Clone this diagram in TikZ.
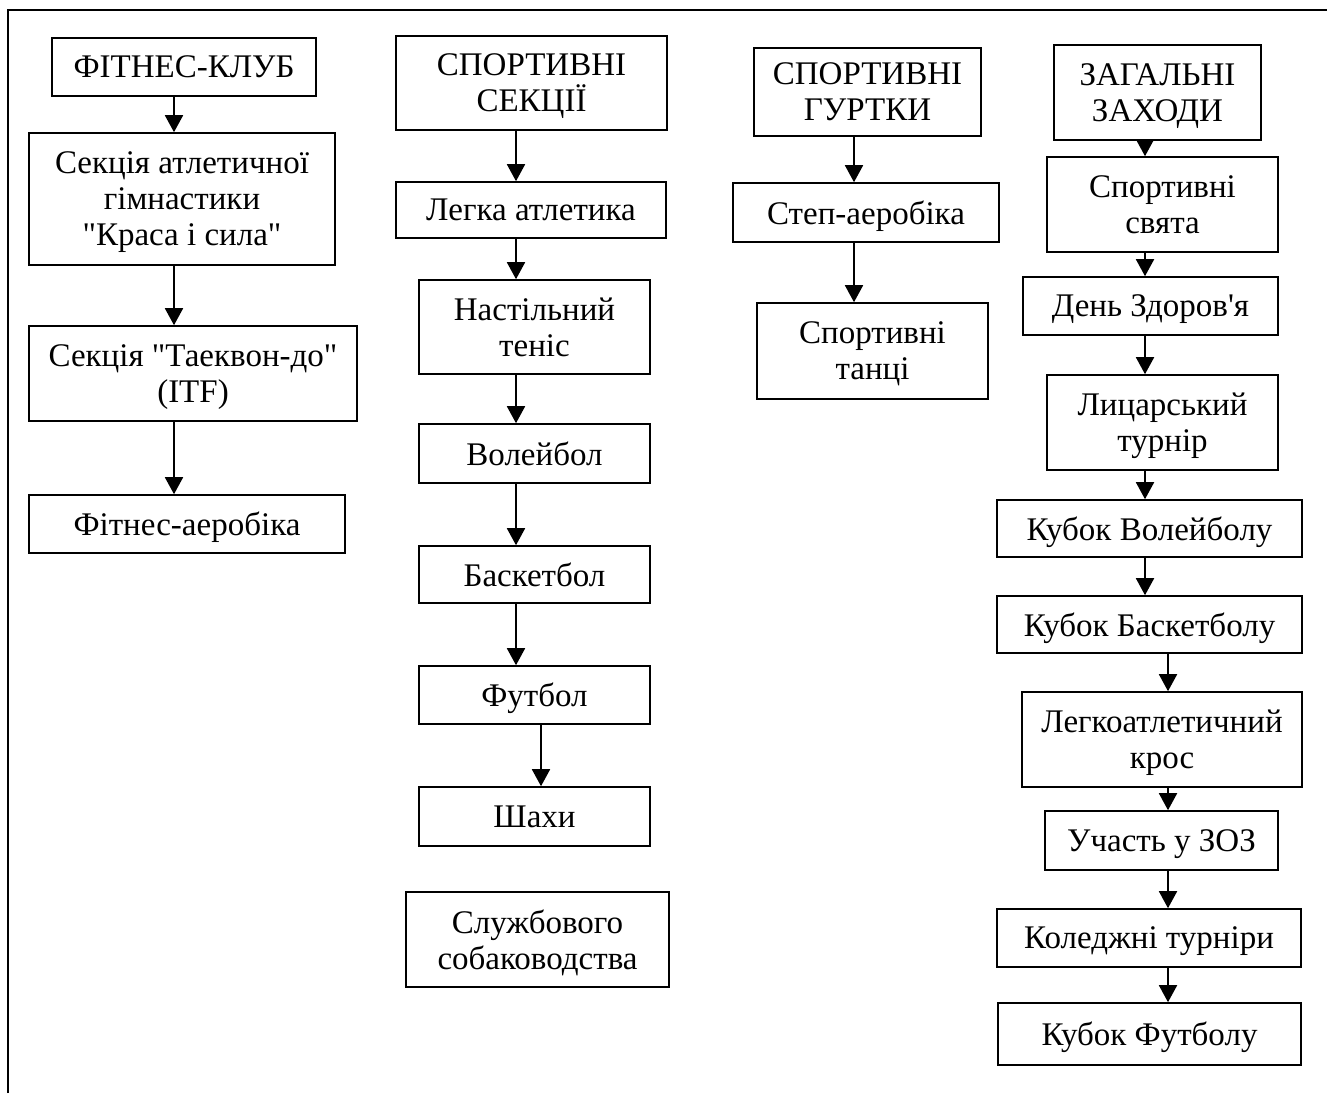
\documentclass[tikz,border=0pt]{standalone}
\usepackage{fontspec}
\setmainfont{Liberation Serif}[Ligatures=TeXOff]
\usetikzlibrary{arrows.meta}

\tikzset{
  box/.style={draw, line width=1.6pt, align=center, inner sep=0pt, text depth=0pt, font=\fontsize{33}{36}\selectfont},
  arr/.style={line width=1.8pt, -{Triangle[width=18pt, length=17pt]}}
}

\begin{document}
\begin{tikzpicture}[x=1pt, y=-1pt]
  \useasboundingbox (0,0) rectangle (1327,1093);
  \draw[line width=2.4pt] (8,1093) -- (8,10) -- (1327,10);

  % fitness club
  \node[box, minimum width=264, minimum height=58] (fc) at (184,67) {ФІТНЕС-КЛУБ};
  \node[box, minimum width=306, minimum height=132] (atl) at (182,199) {Секція атлетичної\\гімнастики\\"Краса і сила"};
  \node[box, minimum width=328, minimum height=95] (tkd) at (193,373.5) {Секція "Таеквон-до"\\(ITF)};
  \node[box, minimum width=316, minimum height=58] (fa) at (187,524) {Фітнес-аеробіка};
  \draw[arr] (fc.south -| 174,0) -- (atl.north -| 174,0);
  \draw[arr] (atl.south -| 174,0) -- (tkd.north -| 174,0);
  \draw[arr] (tkd.south -| 174,0) -- (fa.north -| 174,0);

  % sport sections
  \node[box, minimum width=271, minimum height=94] (ss) at (531.5,83) {СПОРТИВНІ\\СЕКЦІЇ};
  \node[box, minimum width=270, minimum height=56] (la) at (531,210) {Легка атлетика};
  \node[box, minimum width=231, minimum height=94] (nt) at (534.5,327) {Настільний\\теніс};
  \node[box, minimum width=231, minimum height=59] (vb) at (534.5,453.5) {Волейбол};
  \node[box, minimum width=231, minimum height=57] (bb) at (534.5,574.5) {Баскетбол};
  \node[box, minimum width=231, minimum height=58] (fb) at (534.5,695) {Футбол};
  \node[box, minimum width=231, minimum height=59] (sh) at (534.5,816.5) {Шахи};
  \node[box, minimum width=263, minimum height=95] (sl) at (537.5,939.5) {Службового\\собаководства};
  \draw[arr] (ss.south -| 516,0) -- (la.north -| 516,0);
  \draw[arr] (la.south -| 516,0) -- (nt.north -| 516,0);
  \draw[arr] (nt.south -| 516,0) -- (vb.north -| 516,0);
  \draw[arr] (vb.south -| 516,0) -- (bb.north -| 516,0);
  \draw[arr] (bb.south -| 516,0) -- (fb.north -| 516,0);
  \draw[arr] (fb.south -| 541,0) -- (sh.north -| 541,0);

  % sport clubs
  \node[box, minimum width=227, minimum height=88] (sg) at (867.5,92) {СПОРТИВНІ\\ГУРТКИ};
  \node[box, minimum width=266, minimum height=59] (st) at (866,212.5) {Степ-аеробіка};
  \node[box, minimum width=231, minimum height=96] (tn) at (872.5,351) {Спортивні\\танці};
  \draw[arr] (sg.south -| 854,0) -- (st.north -| 854,0);
  \draw[arr] (st.south -| 854,0) -- (tn.north -| 854,0);

  % general events
  \node[box, minimum width=207, minimum height=95] (zz) at (1157.5,92.5) {ЗАГАЛЬНІ\\ЗАХОДИ};
  \node[box, minimum width=231, minimum height=95] (sv) at (1162.5,204.5) {Спортивні\\свята};
  \node[box, minimum width=255, minimum height=58] (dz) at (1150.5,306) {День Здоров'я};
  \node[box, minimum width=231, minimum height=95] (lt) at (1162.5,422.5) {Лицарський\\турнір};
  \node[box, minimum width=305, minimum height=57] (kv) at (1149.5,528.5) {Кубок Волейболу};
  \node[box, minimum width=305, minimum height=57] (kb) at (1149.5,624.5) {Кубок Баскетболу};
  \node[box, minimum width=280, minimum height=95] (lk) at (1162,739.5) {Легкоатлетичний\\крос};
  \node[box, minimum width=233, minimum height=59] (zoz) at (1161.5,840.5) {Участь у ЗОЗ};
  \node[box, minimum width=304, minimum height=58] (kt) at (1149,938) {Коледжні турніри};
  \node[box, minimum width=303, minimum height=62] (kf) at (1149.5,1034) {Кубок Футболу};
  \draw[arr] (zz.south -| 1145,0) -- (sv.north -| 1145,0);
  \draw[arr] (sv.south -| 1145,0) -- (dz.north -| 1145,0);
  \draw[arr] (dz.south -| 1145,0) -- (lt.north -| 1145,0);
  \draw[arr] (lt.south -| 1145,0) -- (kv.north -| 1145,0);
  \draw[arr] (kv.south -| 1145,0) -- (kb.north -| 1145,0);
  \draw[arr] (kb.south -| 1168,0) -- (lk.north -| 1168,0);
  \draw[arr] (lk.south -| 1168,0) -- (zoz.north -| 1168,0);
  \draw[arr] (zoz.south -| 1168,0) -- (kt.north -| 1168,0);
  \draw[arr] (kt.south -| 1168,0) -- (kf.north -| 1168,0);
\end{tikzpicture}
\end{document}
